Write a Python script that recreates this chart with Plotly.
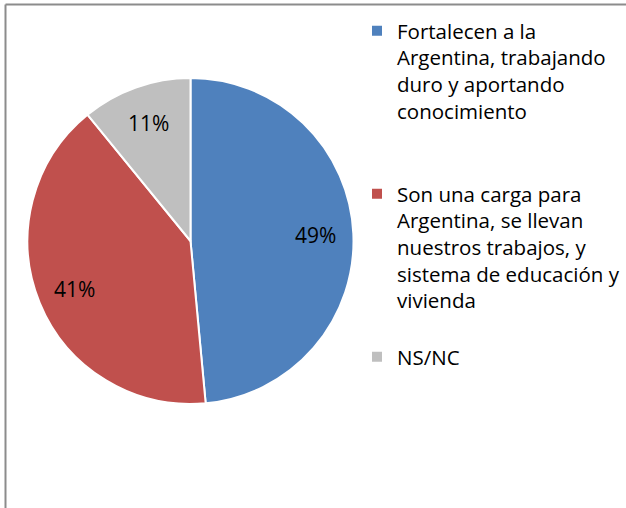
import math
import plotly.graph_objects as go

labels = [
    "Fortalecen a la<br>Argentina, trabajando<br>duro y aportando<br>conocimiento<br> <br> ",
    "Son una carga para<br>Argentina, se llevan<br>nuestros trabajos, y<br>sistema de educación y<br>vivienda<br> ",
    "NS/NC",
]
values = [49, 41, 11]
text_labels = ["49%", "41%", "11%"]
colors = ["#4F81BD", "#C0504D", "#BFBFBF"]

W, H = 626, 508
cx, cy, r = 190.5, 241, 163
FONT = "Open Sans"

fig = go.Figure(go.Pie(
    labels=labels,
    values=values,
    textinfo="none",
    sort=False,
    direction="clockwise",
    rotation=0,
    marker=dict(colors=colors, line=dict(color="white", width=2)),
    domain=dict(x=[(cx - r) / W, (cx + r) / W], y=[(H - cy - r) / H, (H - cy + r) / H]),
    hoverinfo="label+percent",
))

# data labels placed at each slice's mid-angle, derived from the values
total = sum(values)
annotations = []
cum = 0.0
for v, t in zip(values, text_labels):
    mid = (cum + v / 2) / total * 2 * math.pi
    cum += v
    rr = 0.77 * r
    px = cx + rr * math.sin(mid)
    py = cy - rr * math.cos(mid)
    annotations.append(dict(
        x=px / W, y=1 - py / H, xref="paper", yref="paper", text=t, showarrow=False,
        font=dict(size=21, color="black", family=FONT), xanchor="center", yanchor="middle",
    ))

fig.update_layout(
    width=W, height=H,
    margin=dict(l=0, r=0, t=0, b=0),
    paper_bgcolor="white",
    font=dict(family=FONT, size=20.5, color="black"),
    showlegend=True,
    legend=dict(x=357 / W, xanchor="left", y=1 - 11 / H, yanchor="top",
                valign="top", font=dict(size=20.5, family=FONT, color="black")),
    annotations=annotations,
    shapes=[
        dict(type="line", xref="paper", yref="paper", x0=5.5 / W, x1=5.5 / W, y0=0, y1=1 - 4.5 / H,
             line=dict(color="#8c8c8c", width=2)),
        dict(type="line", xref="paper", yref="paper", x0=5.5 / W, x1=1, y0=1 - 4.5 / H, y1=1 - 4.5 / H,
             line=dict(color="#8c8c8c", width=2)),
    ],
)

fig.write_html("out.html", config={"displayModeBar": False},
               post_script="document.body.style.margin='0';document.body.style.overflow='hidden';")
